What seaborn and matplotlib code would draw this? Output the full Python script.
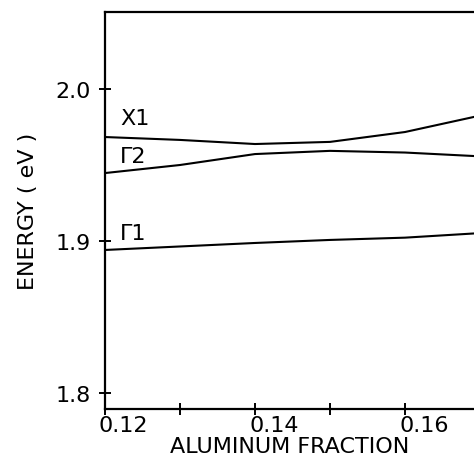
import matplotlib
matplotlib.use("Agg")
import matplotlib.pyplot as plt
import matplotlib.transforms as mtransforms
import seaborn as sns
import pandas as pd

# Data
aluminum = [0.12, 0.13, 0.14, 0.15, 0.16, 0.17]
x1_energy = [1.9684, 1.9665, 1.9638, 1.9652, 1.9717, 1.9825]
g2_energy = [1.9447, 1.9500, 1.9572, 1.9593, 1.9582, 1.9557]
g1_energy = [1.8941, 1.8964, 1.8987, 1.9007, 1.9022, 1.9052]
band_labels = ["X1", "\u03932", "\u03931"]
x_ticks = [0.12, 0.13, 0.14, 0.15, 0.16]
x_ticklabels = ["0.12", "", "0.14", "", "0.16"]
y_ticks = [1.8, 1.9, 2.0]
y_ticklabels = ["1.8", "1.9", "2.0"]

df = pd.DataFrame({
    "x": aluminum * 3,
    "E": x1_energy + g2_energy + g1_energy,
    "band": [band_labels[0]] * 6 + [band_labels[1]] * 6 + [band_labels[2]] * 6,
})

sns.set_style("ticks")
plt.rcParams["font.family"] = ["DejaVu Sans"]
plt.rcParams["text.color"] = "black"
plt.rcParams["axes.labelcolor"] = "black"

fig = plt.figure(figsize=(4.74, 4.60), dpi=100)
ax = fig.add_axes([105 / 474, 50 / 460, 369 / 474, 397 / 460])

sns.lineplot(data=df, x="x", y="E", hue="band", palette=["black"] * 3,
             legend=False, linewidth=1.5, ax=ax)

ax.set_xlim(0.12, 0.12 + 369 / 7500)
ax.set_ylim(1.8 - 16 / 1520, 2.0 + 77 / 1520)

ax.set_xticks(x_ticks)
ax.set_xticklabels(x_ticklabels)
ax.set_yticks(y_ticks)
ax.set_yticklabels(y_ticklabels)
ax.tick_params(direction="inout", length=8, width=1.4, labelsize=16,
               colors="black")
ax.tick_params(axis="x", pad=0)
ax.tick_params(axis="y", pad=6)

offset = mtransforms.ScaledTranslation(-6 / 100, 0, fig.dpi_scale_trans)
for lab in ax.get_xticklabels():
    lab.set_ha("left")
    lab.set_transform(lab.get_transform() + offset)

for s in ["left", "top", "bottom"]:
    ax.spines[s].set_linewidth(1.6)
    ax.spines[s].set_color("black")
ax.spines["right"].set_visible(False)

ax.set_xlabel("ALUMINUM FRACTION", fontsize=16, labelpad=1, color="black")
ax.set_ylabel("ENERGY ( eV )", fontsize=16, labelpad=13, color="black")

# band labels
ax.text(0.1220, 1.9770, band_labels[0], fontsize=16, ha="left", va="baseline", color="black")
ax.text(0.1220, 1.9520, band_labels[1], fontsize=16, ha="left", va="baseline", color="black")
ax.text(0.1220, 1.9013, band_labels[2], fontsize=16, ha="left", va="baseline", color="black")

fig.savefig("out.png", dpi=100)
